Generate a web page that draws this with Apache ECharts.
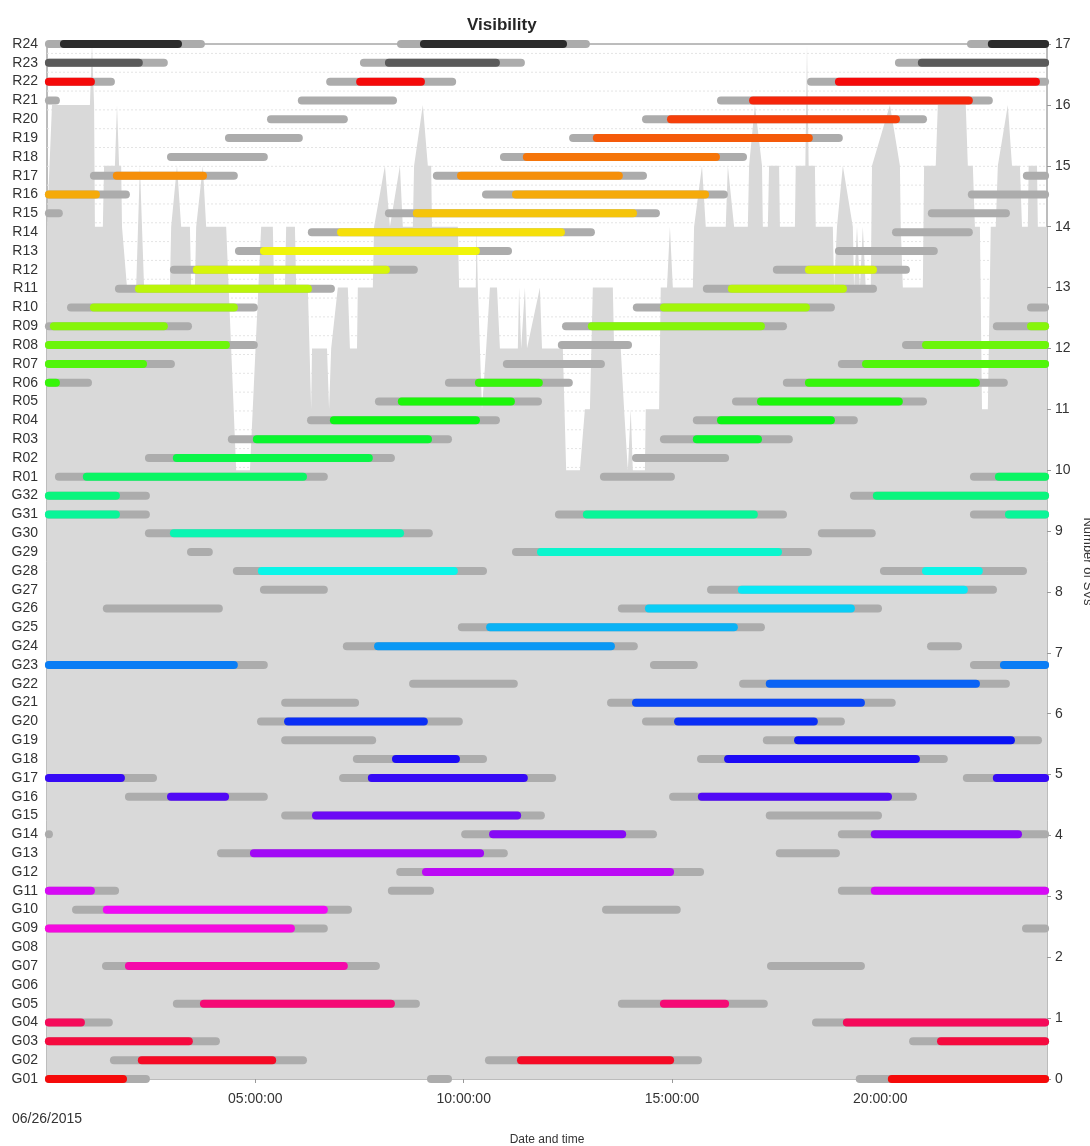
<!DOCTYPE html>
<html>
<head>
<meta charset="utf-8">
<script src="https://cdn.jsdelivr.net/npm/echarts@6/dist/echarts.min.js"></script>
<style>html,body{margin:0;padding:0;background:#fff}#chart{width:1090px;height:1146px}</style>
</head>
<body>
<div id="chart"></div>
<script>
// ---- data ----
const satellites = ['G01','G02','G03','G04','G05','G06','G07','G08','G09','G10','G11','G12','G13','G14','G15','G16',
  'G17','G18','G19','G20','G21','G22','G23','G24','G25','G26','G27','G28','G29','G30','G31','G32',
  'R01','R02','R03','R04','R05','R06','R07','R08','R09','R10','R11','R12','R13','R14','R15','R16',
  'R17','R18','R19','R20','R21','R22','R23','R24'];

const timeTickValues = [0, 5, 10, 15, 20];
const timeTickLabels = ['06/26/2015', '05:00:00', '10:00:00', '15:00:00', '20:00:00'];

// number of visible SVs (hours, count)
const svTime = [0,0.12,1.03,1.08,1.13,1.15,1.34,1.37,1.63,1.68,1.73,1.78,1.8,1.92,2.14,2.23,2.33,2.95,2.98,3.12,3.22,3.43,3.46,3.55,3.58,3.74,3.82,4.30,4.54,4.87,5.14,5.42,5.45,5.71,5.74,5.95,5.98,6.26,6.34,6.36,6.72,6.77,6.82,6.98,7.22,7.27,7.44,7.46,7.82,7.85,8.11,8.23,8.47,8.54,8.78,8.81,9.02,9.14,9.22,9.24,9.86,9.89,10.29,10.31,10.34,10.44,10.54,10.63,10.8,10.87,11.3,11.33,11.38,11.47,11.52,11.83,11.88,12.38,12.46,12.79,12.91,13.03,13.1,13.58,13.61,13.77,13.85,13.94,14.01,14.06,14.35,14.37,14.69,14.73,14.88,14.95,15.02,15.5,15.53,15.72,15.81,16.29,16.34,16.49,16.82,16.85,16.99,17.16,17.18,17.3,17.33,17.57,17.59,17.95,17.97,18.2,18.24,18.28,18.43,18.45,18.86,18.89,18.96,19.1,19.34,19.37,19.44,19.51,19.58,19.65,19.77,19.8,20.23,20.47,20.49,20.54,21.02,21.05,21.33,21.38,22.05,22.1,22.22,22.27,22.39,22.44,22.58,22.65,22.77,22.82,23.06,23.16,23.35,23.4,23.54,23.56,23.76,23.78,24];
const svCount = [14,16,16,17,16,14,14,15,15,16,15,15,14,13,13,15,13,13,14,15,14,14,13,13,14,15,14,14,10,10,14,14,13,13,14,14,13,13,11,12,12,11,12,13,13,12,12,13,13,14,15,14,15,14,14,15,16,15,15,14,14,13,13,14,13,11,12,13,13,12,12,13,12,13,12,13,12,12,10,10,11,11,13,13,12,12,11,10,11,10,10,11,11,13,13,14,13,13,14,15,14,14,15,14,14,15,16,15,14,14,15,15,14,14,15,15,17,15,15,14,14,13,14,15,14,13,14,13,14,13,13,15,16,15,14,13,13,15,15,16,16,15,15,14,14,11,11,14,14,15,16,15,15,14,14,15,15,14,14];

// low-elevation visibility (grey): [satellite, start hour, end hour]
const lowPasses = [
  ['R24',-0.05,3.79],['R24',8.40,13.03],['R24',22.08,24.05],
  ['R23',-0.05,2.90],['R23',7.51,11.47],['R23',20.35,24.05],
  ['R22',-0.05,1.63],['R22',6.70,9.82],['R22',18.24,24.05],
  ['R21',-0.05,0.31],['R21',6.02,8.40],['R21',16.08,22.70],
  ['R20',5.28,7.22],['R20',14.28,21.12],
  ['R19',4.27,6.14],['R19',12.53,19.10],
  ['R18',2.88,5.30],['R18',10.87,16.80],
  ['R17',1.03,4.58],['R17',9.26,14.40],['R17',23.42,24.05],
  ['R16',-0.05,1.99],['R16',10.44,16.34],['R16',22.10,24.05],
  ['R15',-0.05,0.38],['R15',8.11,14.71],['R15',21.14,23.11],
  ['R14',6.26,13.15],['R14',20.28,22.22],
  ['R13',4.51,11.16],['R13',18.91,21.38],
  ['R12',2.95,8.90],['R12',17.42,20.71],
  ['R11',1.63,6.91],['R11',15.74,19.92],
  ['R10',0.48,5.06],['R10',14.06,18.91],['R10',23.52,24.05],
  ['R09',-0.05,3.48],['R09',12.36,17.76],['R09',22.70,24.05],
  ['R08',-0.05,5.06],['R08',12.26,14.04],['R08',20.52,24.05],
  ['R07',-0.05,3.07],['R07',10.94,13.39],['R07',18.98,24.05],
  ['R06',-0.05,1.08],['R06',9.55,12.62],['R06',17.66,23.06],
  ['R05',7.87,11.88],['R05',16.44,21.12],
  ['R04',6.24,10.87],['R04',15.50,19.46],
  ['R03',4.34,9.72],['R03',14.71,17.90],
  ['R02',2.35,8.35],['R02',14.04,16.37],
  ['R01',0.19,6.74],['R01',13.27,15.07],['R01',22.15,24.05],
  ['G32',-0.05,2.47],['G32',19.27,24.05],
  ['G31',-0.05,2.47],['G31',12.19,17.76],['G31',22.15,24.05],
  ['G30',2.35,9.26],['G30',18.50,19.89],
  ['G29',3.36,3.98],['G29',11.16,18.36],
  ['G28',4.46,10.56],['G28',19.99,23.52],
  ['G27',5.11,6.74],['G27',15.84,22.80],
  ['G26',1.34,4.22],['G26',13.70,20.04],
  ['G25',9.86,17.23],
  ['G24',7.10,14.18],['G24',21.12,21.96],
  ['G23',-0.05,5.30],['G23',14.47,15.62],['G23',22.15,24.05],
  ['G22',8.69,11.30],['G22',16.61,23.11],
  ['G21',5.62,7.49],['G21',13.44,20.37],
  ['G20',5.04,9.98],['G20',14.28,19.15],
  ['G19',5.62,7.90],['G19',17.18,23.88],
  ['G18',7.34,10.56],['G18',15.60,21.62],
  ['G17',-0.05,2.64],['G17',7.01,12.22],['G17',21.98,24.05],
  ['G16',1.87,5.30],['G16',14.93,20.88],
  ['G15',5.62,11.95],['G15',17.25,20.04],
  ['G14',-0.05,0.12],['G14',9.94,14.64],['G14',18.98,24.05],
  ['G13',4.08,11.06],['G13',17.49,19.03],
  ['G12',8.38,15.77],
  ['G11',-0.05,1.73],['G11',8.18,9.29],['G11',18.98,24.05],
  ['G10',0.60,7.32],['G10',13.32,15.21],
  ['G09',-0.05,6.74],['G09',23.40,24.05],
  ['G07',1.32,7.99],['G07',17.28,19.63],
  ['G05',3.02,8.95],['G05',13.70,17.30],
  ['G04',-0.05,1.58],['G04',18.36,24.05],
  ['G03',-0.05,4.15],['G03',20.69,24.05],
  ['G02',1.51,6.24],['G02',10.51,15.72],
  ['G01',-0.05,2.47],['G01',9.12,9.72],['G01',19.41,24.05]
];

// above elevation mask (coloured): [satellite, start hour, end hour]
const highPasses = [
  ['R24',0.31,3.24],['R24',8.95,12.48],['R24',22.58,24.05],
  ['R23',-0.05,2.30],['R23',8.11,10.87],['R23',20.90,24.05],
  ['R22',-0.05,1.15],['R22',7.42,9.07],['R22',18.91,23.83],
  ['R21',16.85,22.22],
  ['R20',14.88,20.47],
  ['R19',13.10,18.38],
  ['R18',11.42,16.15],
  ['R17',1.58,3.84],['R17',9.84,13.82],
  ['R16',-0.05,1.27],['R16',11.16,15.89],
  ['R15',8.78,14.16],
  ['R14',6.96,12.43],
  ['R13',5.11,10.39],
  ['R12',3.50,8.23],['R12',18.19,19.92],
  ['R11',2.11,6.36],['R11',16.34,19.20],
  ['R10',1.03,4.58],['R10',14.71,18.31],
  ['R09',0.07,2.90],['R09',12.98,17.23],['R09',23.52,24.05],
  ['R08',-0.05,4.39],['R08',21.00,24.05],
  ['R07',-0.05,2.40],['R07',19.56,24.05],
  ['R06',-0.05,0.31],['R06',10.27,11.90],['R06',18.19,22.39],
  ['R05',8.42,11.23],['R05',17.04,20.54],
  ['R04',6.79,10.39],['R04',16.08,18.91],
  ['R03',4.94,9.24],['R03',15.50,17.16],
  ['R02',3.02,7.82],
  ['R01',0.86,6.24],['R01',22.75,24.05],
  ['G32',-0.05,1.75],['G32',19.82,24.05],
  ['G31',-0.05,1.75],['G31',12.86,17.06],['G31',22.99,24.05],
  ['G30',2.95,8.57],
  ['G29',11.76,17.64],
  ['G28',5.06,9.86],['G28',21.00,22.46],
  ['G27',16.58,22.10],
  ['G26',14.35,19.39],
  ['G25',10.54,16.58],
  ['G24',7.85,13.63],
  ['G23',-0.05,4.58],['G23',22.87,24.05],
  ['G22',17.25,22.39],
  ['G21',14.04,19.63],
  ['G20',5.69,9.14],['G20',15.05,18.50],
  ['G19',17.93,23.23],
  ['G18',8.28,9.91],['G18',16.25,20.95],
  ['G17',-0.05,1.87],['G17',7.70,11.54],['G17',22.70,24.05],
  ['G16',2.88,4.37],['G16',15.62,20.28],
  ['G15',6.36,11.38],
  ['G14',10.61,13.90],['G14',19.77,23.40],
  ['G13',4.87,10.49],
  ['G12',9.00,15.05],
  ['G11',-0.05,1.15],['G11',19.77,24.05],
  ['G10',1.34,6.74],
  ['G09',-0.05,5.95],
  ['G07',1.87,7.22],
  ['G05',3.67,8.35],['G05',14.71,16.37],
  ['G04',-0.05,0.91],['G04',19.10,24.05],
  ['G03',-0.05,3.50],['G03',21.36,24.05],
  ['G02',2.18,5.50],['G02',11.28,15.05],
  ['G01',-0.05,1.92],['G01',20.18,24.05]
];

// ---- styling ----
const FONT = "'Liberation Sans', Arial, sans-serif";
const BAR_H = 8;
function satColor(i) {
  if (satellites[i] === 'R23') return '#5a5a5a';
  if (satellites[i] === 'R24') return '#2b2b2b';
  const h = (360 - i * 360 / 53 + 360) % 360;
  return 'hsl(' + h.toFixed(1) + ',92%,50%)';
}
const rowOf = name => satellites.indexOf(name);

function barRenderer(colorFn) {
  return function (params, api) {
    const row = api.value(0), s = api.value(1), e = api.value(2);
    const p1 = api.coord([s, row]);
    const p2 = api.coord([e, row]);
    return {
      type: 'rect',
      shape: { x: p1[0], y: p1[1] - BAR_H / 2, width: Math.max(p2[0] - p1[0], BAR_H), height: BAR_H, r: BAR_H / 2 },
      style: { fill: colorFn(row) }
    };
  };
}

const gridRows = satellites.slice(1).map((_, i) => i + 0.5);

const chart = echarts.init(document.getElementById('chart'), null, { renderer: 'canvas' });
chart.setOption({
  animation: false,
  backgroundColor: '#ffffff',
  textStyle: { fontFamily: FONT },
  title: {
    text: 'Visibility', left: 462, top: 12,
    textStyle: { fontFamily: FONT, fontSize: 17, fontWeight: 'bold', color: '#262626' }
  },
  grid: { left: 47, right: 43, top: 44, bottom: 67, show: true, borderColor: '#7a7a7a', borderWidth: 1,
    backgroundColor: 'transparent', containLabel: false, outerBoundsMode: 'none' },
  xAxis: {
    type: 'value', min: 0, max: 24, interval: 5,
    name: 'Date and time', nameLocation: 'middle', nameGap: 54,
    nameTextStyle: { fontFamily: FONT, fontSize: 12, color: '#333' },
    axisLine: { show: false },
    axisTick: { show: true, length: 4, lineStyle: { color: '#999' }, customValues: [5, 10, 15, 20] },
    axisLabel: {
      customValues: timeTickValues,
      fontFamily: FONT, fontSize: 14, color: '#333', margin: 10, lineHeight: 20,
      formatter: v => { const i = timeTickValues.indexOf(v); return i === 0 ? '\n' + timeTickLabels[0] : (i > 0 ? timeTickLabels[i] : ''); }
    },
    splitLine: { show: false }
  },
  yAxis: [
    {
      type: 'value', min: 0, max: satellites.length - 1, interval: 1, position: 'left',
      axisLine: { show: false }, axisTick: { show: false }, splitLine: { show: false },
      axisLabel: { fontFamily: FONT, fontSize: 14, color: '#333', margin: 9, formatter: v => satellites[Math.round(v)] || '' }
    },
    {
      type: 'value', min: 0, max: 17, interval: 1, position: 'right',
      name: 'Number of SVs', nameLocation: 'middle', nameRotate: -90, nameGap: 30,
      nameTextStyle: { fontFamily: FONT, fontSize: 13, color: '#333' },
      axisLine: { show: false },
      axisTick: { show: true, length: 4, lineStyle: { color: '#999' } },
      axisLabel: { fontFamily: FONT, fontSize: 14, color: '#333', margin: 8 },
      splitLine: { show: false }
    }
  ],
  series: [
    {
      name: 'grid', type: 'custom', xAxisIndex: 0, yAxisIndex: 0, z: 1, silent: true,
      data: gridRows.map(r => [r]),
      encode: { y: 0 },
      renderItem: (params, api) => {
        const r = api.value(0);
        const a = api.coord([0, r]), b = api.coord([24, r]);
        return { type: 'line', shape: { x1: a[0], y1: a[1], x2: b[0], y2: b[1] },
          style: { stroke: '#e4e4e4', lineWidth: 1, lineDash: [2, 2] } };
      }
    },
    {
      name: 'Number of SVs', type: 'line', xAxisIndex: 0, yAxisIndex: 1, z: 2,
      data: svTime.map((t, i) => [t, svCount[i]]),
      showSymbol: false, symbol: 'none',
      lineStyle: { width: 0, color: '#d9d9d9' },
      areaStyle: { color: '#d9d9d9', opacity: 1 }
    },
    {
      name: 'low', type: 'custom', xAxisIndex: 0, yAxisIndex: 0, z: 3, clip: false,
      data: lowPasses.map(p => [rowOf(p[0]), p[1], p[2]]),
      encode: { x: [1, 2], y: 0 },
      renderItem: barRenderer(() => '#acacac')
    },
    {
      name: 'high', type: 'custom', xAxisIndex: 0, yAxisIndex: 0, z: 4, clip: false,
      data: highPasses.map(p => [rowOf(p[0]), p[1], p[2]]),
      encode: { x: [1, 2], y: 0 },
      renderItem: barRenderer(satColor)
    }
  ]
});
</script>
</body>
</html>
